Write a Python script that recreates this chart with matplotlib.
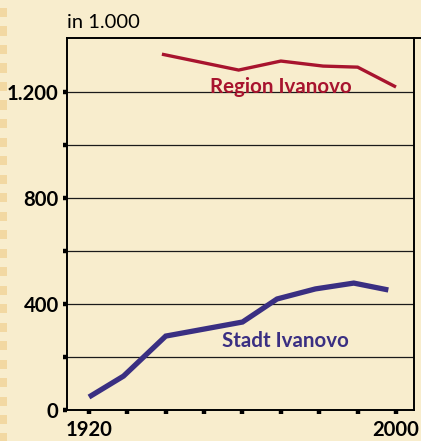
import matplotlib
matplotlib.use("Agg")
import matplotlib.pyplot as plt
from matplotlib.patches import Rectangle
from matplotlib.lines import Line2D

# Data (in 1.000)
stadt_years = [1920, 1929, 1940, 1960, 1969, 1979, 1989, 1998]
stadt_values = [49, 128, 279, 332, 419, 457, 479, 453]
region_years = [1939, 1959, 1970, 1981, 1990, 2000]
region_values = [1343, 1283, 1317, 1298, 1294, 1219]

y_ticks = [0, 200, 400, 600, 800, 1000, 1200]
y_labels = ["0", "", "400", "", "800", "", "1.200"]
x_ticks = [1920, 1930, 1940, 1950, 1960, 1970, 1980, 1990, 2000]
x_labels = ["1920", "", "", "", "", "", "", "", "2000"]

BG = "#F8EDCD"
STRIPE = "#F2D8A2"
RED = "#A8142E"
BLUE = "#3A2F82"

W, H = 421, 441
fig = plt.figure(figsize=(W / 100, H / 100), dpi=100, facecolor=BG)

# Left decorative stripe
y = 8
while y < H:
    fig.patches.append(Rectangle((0, 1 - (y + 9) / H), 7 / W, 9 / H,
                                 transform=fig.transFigure, facecolor=STRIPE,
                                 edgecolor="none"))
    y += 18.5

ax = fig.add_axes([67 / W, 1 - 410 / H, (414 - 67) / W, (410 - 38) / H])
ax.set_facecolor(BG)
ax.set_xlim(1914.27, 2004.69)
ax.set_ylim(0, 1404)

for v in y_ticks[1:]:
    ax.axhline(v, color="#1a1a1a", lw=0.9, zorder=1)

ax.plot(stadt_years, stadt_values, color=BLUE, lw=3.8, solid_capstyle="butt",
        solid_joinstyle="miter", zorder=3)
ax.plot(region_years, region_values, color=RED, lw=2.4, solid_capstyle="butt",
        solid_joinstyle="miter", zorder=3)

lab_font = "Lato"
ax.text(1969.9, 1196, "Region Ivanovo", color=RED, fontsize=14.8,
        fontweight="bold", family=lab_font, ha="center", va="baseline", zorder=4)
ax.text(1971.3, 238, "Stadt Ivanovo", color=BLUE, fontsize=14.8,
        fontweight="bold", family=lab_font, ha="center", va="baseline", zorder=4)

for s in ax.spines.values():
    s.set_color("black")
    s.set_linewidth(1.4)

ax.set_yticks(y_ticks)
ax.set_yticklabels(y_labels)
ax.set_xticks(x_ticks)
ax.set_xticklabels(x_labels)
ax.tick_params(axis="both", direction="out", length=3, width=3.2, color="black",
               labelsize=14.6, pad=3)
ax.tick_params(axis="x", pad=4.5)
for t in ax.get_yticklabels() + ax.get_xticklabels():
    t.set_fontweight("bold")
    t.set_family(lab_font)

# top line extends to figure edge
fig.lines.append(Line2D([414 / W, 1.0], [1 - 38 / H, 1 - 38 / H],
                        transform=fig.transFigure, color="black", lw=1.4))

fig.text(67 / W, 1 - 23 / H, "in 1.000", fontsize=14.5, family=lab_font,
         ha="left", va="center")

fig.savefig("out.png", dpi=100, facecolor=BG)
